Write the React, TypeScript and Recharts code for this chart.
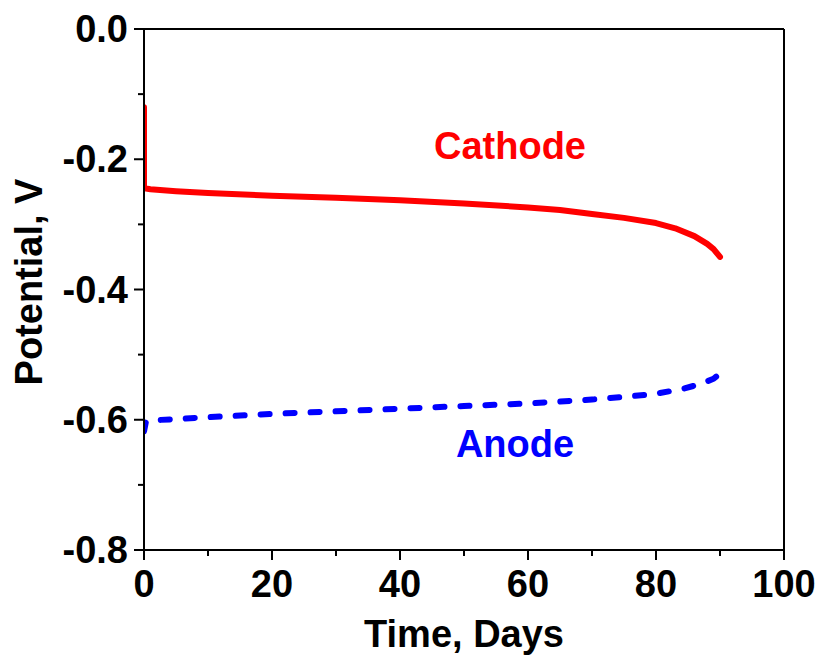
import React from "react";
import { LineChart, Line, XAxis, YAxis, ReferenceLine } from "recharts";

// Electrode potentials over the test period
const cathodeDays = [0, 0, 0.3, 1, 5, 10, 20, 30, 40, 50, 60, 65, 70, 75, 80, 83, 86, 88, 89, 90];
const cathodeVolts = [-0.12, -0.243, -0.245, -0.246, -0.249, -0.252, -0.256, -0.259, -0.263, -0.268, -0.274, -0.278, -0.284, -0.29, -0.298, -0.306, -0.318, -0.33, -0.338, -0.35];

const anodeDays = [0, 0.3, 1, 5, 10, 20, 30, 40, 50, 60, 70, 75, 80, 84, 87, 89, 90];
const anodeVolts = [-0.618, -0.603, -0.601, -0.599, -0.596, -0.591, -0.587, -0.583, -0.579, -0.575, -0.569, -0.565, -0.56, -0.553, -0.545, -0.537, -0.529];

const xTicks = [0, 10, 20, 30, 40, 50, 60, 70, 80, 90, 100];
const yTicks = [-0.8, -0.7, -0.6, -0.5, -0.4, -0.3, -0.2, -0.1, 0];

const cathode = cathodeDays.map((day, i) => ({ day, v: cathodeVolts[i] }));
const anode = anodeDays.map((day, i) => ({ day, v: anodeVolts[i] }));

const FONT = "'Liberation Sans', Arial, Helvetica, sans-serif";
const FS = 38;

const XTick = (props: any) => {
  const { x, y, payload } = props;
  const v = payload.value as number;
  const major = v % 20 === 0;
  return (
    <g>
      <line x1={x} x2={x} y1={y} y2={y + (major ? 10 : 6)} stroke="#000" strokeWidth={2} />
      {major && (
        <text x={x} y={y + 47} textAnchor="middle" fontFamily={FONT} fontWeight="bold" fontSize={FS} fill="#000">
          {v}
        </text>
      )}
    </g>
  );
};

const YTick = (props: any) => {
  const { x, y, payload } = props;
  const v = payload.value as number;
  const major = Math.round(v * 10) % 2 === 0;
  return (
    <g>
      <line x1={x} x2={x - (major ? 10 : 6)} y1={y} y2={y} stroke="#000" strokeWidth={2} />
      {major && (
        <text x={x - 16} y={y + 13} textAnchor="end" fontFamily={FONT} fontWeight="bold" fontSize={FS} fill="#000">
          {v === 0 ? "0.0" : v.toFixed(1)}
        </text>
      )}
    </g>
  );
};

export default function App() {
  return (
    <div style={{ position: "absolute", left: 0, top: 0, background: "#fff" }}>
      <LineChart width={823} height={663} margin={{ top: 29, right: 39, bottom: 0, left: 0 }}>
        <XAxis
          type="number"
          dataKey="day"
          domain={[0, 100]}
          ticks={xTicks}
          interval={0}
          height={113}
          tickSize={0}
          tickMargin={0}
          tickLine={false}
          axisLine={{ stroke: "#000", strokeWidth: 2 }}
          tick={(p: any) => <XTick {...p} />}
          allowDataOverflow
        />
        <YAxis
          type="number"
          domain={[-0.8, 0]}
          ticks={yTicks}
          interval={0}
          width={144}
          tickSize={0}
          tickMargin={0}
          tickLine={false}
          axisLine={{ stroke: "#000", strokeWidth: 2 }}
          tick={(p: any) => <YTick {...p} />}
          allowDataOverflow
        />
        {/* top and right edges of the plot frame */}
        <ReferenceLine y={0} stroke="#000" strokeWidth={2} ifOverflow="extendDomain" />
        <ReferenceLine x={100} stroke="#000" strokeWidth={2} ifOverflow="extendDomain" />
        <Line
          data={cathode}
          dataKey="v"
          type="linear"
          stroke="#ff0000"
          strokeWidth={6}
          strokeLinecap="round"
          strokeLinejoin="round"
          dot={false}
          activeDot={false}
          isAnimationActive={false}
        />
        <Line
          data={anode}
          dataKey="v"
          type="linear"
          stroke="#0000ff"
          strokeWidth={6}
          strokeDasharray="9 16"
          strokeLinecap="round"
          dot={false}
          activeDot={false}
          isAnimationActive={false}
        />
        <text x={510} y={159} textAnchor="middle" fontFamily={FONT} fontWeight="bold" fontSize={FS} fill="#ff0000">
          Cathode
        </text>
        <text x={515} y={457} textAnchor="middle" fontFamily={FONT} fontWeight="bold" fontSize={FS} fill="#0000ff">
          Anode
        </text>
        <text x={464} y={647} textAnchor="middle" fontFamily={FONT} fontWeight="bold" fontSize={FS} fill="#000">
          Time, Days
        </text>
        <text
          x={42}
          y={282}
          textAnchor="middle"
          transform="rotate(-90 42 282)"
          fontFamily={FONT}
          fontWeight="bold"
          fontSize={FS}
          fill="#000"
        >
          Potential, V
        </text>
      </LineChart>
    </div>
  );
}
